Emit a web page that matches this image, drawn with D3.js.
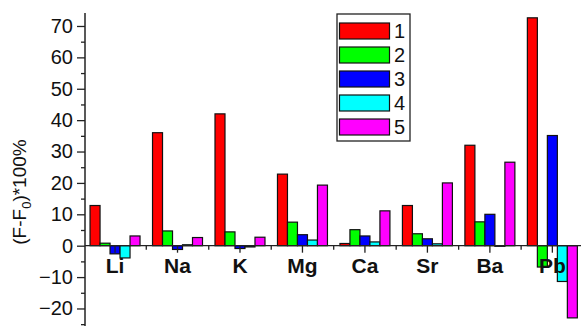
<!DOCTYPE html>
<html>
<head>
<meta charset="utf-8">
<script src="https://cdn.jsdelivr.net/npm/d3@7"></script>
<style>
  html, body { margin: 0; padding: 0; background: #fff; }
  svg { display: block; font-family: "Liberation Sans", Arial, sans-serif; }
</style>
</head>
<body>
<svg id="chart" width="581" height="326"></svg>
<script>
const categories = ["Li", "Na", "K", "Mg", "Ca", "Sr", "Ba", "Pb"];
const seriesNames = ["1", "2", "3", "4", "5"];
const s1 = [12.8, 36.0, 42.0, 22.8, 0.7, 12.8, 32.0, 72.6];
const s2 = [0.8, 4.7, 4.4, 7.5, 5.1, 3.8, 7.6, -6.8];
const s3 = [-2.6, -1.2, -0.9, 3.5, 3.1, 2.2, 10.0, 35.1];
const s4 = [-3.9, 0.3, -0.4, 1.8, 1.2, 0.6, 0.0, -11.4];
const s5 = [3.1, 2.6, 2.7, 19.3, 11.1, 20.0, 26.6, -23.0];
const colors = ["#ff0000", "#00ff00", "#0000ff", "#00ffff", "#ff00ff"];
const yMajorTicks = [-20, -10, 0, 10, 20, 30, 40, 50, 60, 70];
const yMinorTicks = [-25, -15, -5, 5, 15, 25, 35, 45, 55, 65];
const yLabel = "(F-F";
const yLabelSub = "0";
const yLabelEnd = ")*100%";

const series = [s1, s2, s3, s4, s5];
const svg = d3.select("#chart");

const axisX = 85;
const y = d3.scaleLinear().domain([-26, 74.2]).range([327.3, 12.8]);
const x0 = d3.scaleBand().domain(categories).range([83.8, 583.6])
  .paddingInner(0.2).paddingOuter(0.1);
const x1 = d3.scaleBand().domain(seriesNames).range([0, x0.bandwidth()]);

const rows = [];
categories.forEach((c, i) => {
  series.forEach((s, j) => rows.push({ c, k: seriesNames[j], v: s[i], color: colors[j] }));
});

// bars
svg.append("g").selectAll("rect").data(rows).join("rect")
  .attr("x", d => x0(d.c) + x1(d.k))
  .attr("width", x1.bandwidth())
  .attr("y", d => y(Math.max(0, d.v)))
  .attr("height", d => Math.max(0.6, Math.abs(y(d.v) - y(0))))
  .attr("fill", d => d.color)
  .attr("stroke", "#111")
  .attr("stroke-width", 1.2);

// x axis (zero line) with ticks
const xAxis = svg.append("g").attr("transform", `translate(0,${y(0)})`)
  .call(d3.axisBottom(x0).tickSize(7).tickFormat(""));
xAxis.select(".domain").remove();
xAxis.selectAll(".tick line").attr("stroke", "#222").attr("stroke-width", 1.3);
svg.append("line").attr("x1", axisX).attr("x2", 581)
  .attr("y1", y(0)).attr("y2", y(0)).attr("stroke", "#222").attr("stroke-width", 1.3);
const step = x0.step();
const bounds = categories.slice(0, -1).map(c => x0(c) + x0.bandwidth() + step * x0.paddingInner() / 2);
svg.append("g").selectAll("line").data(bounds).join("line")
  .attr("x1", d => d).attr("x2", d => d)
  .attr("y1", y(0)).attr("y2", y(0) + 4)
  .attr("stroke", "#222").attr("stroke-width", 1.3);

// category labels
svg.append("g").selectAll("text").data(categories).join("text")
  .attr("x", c => x0(c) + x0.bandwidth() / 2)
  .attr("y", 273)
  .attr("text-anchor", "middle")
  .attr("font-size", 21).attr("font-weight", "bold").attr("fill", "#111")
  .text(c => c);

// y axis
const yAxis = svg.append("g").attr("transform", `translate(${axisX},0)`)
  .call(d3.axisLeft(y).tickValues(yMajorTicks).tickSize(8).tickPadding(4));
yAxis.select(".domain").remove();
yAxis.selectAll(".tick line").attr("stroke", "#222").attr("stroke-width", 1.3);
yAxis.selectAll(".tick text").attr("font-size", 20).attr("fill", "#111")
  .attr("font-family", "Liberation Sans, Arial, sans-serif");
svg.append("g").attr("transform", `translate(${axisX},0)`)
  .call(d3.axisLeft(y).tickValues(yMinorTicks).tickSize(4).tickFormat(""))
  .call(g => g.select(".domain").remove())
  .selectAll(".tick line").attr("stroke", "#222").attr("stroke-width", 1.3);
svg.append("line").attr("x1", axisX).attr("x2", axisX)
  .attr("y1", 13).attr("y2", 326).attr("stroke", "#222").attr("stroke-width", 1.5);

// y label
const yl = svg.append("text")
  .attr("transform", "translate(26,192) rotate(-90)")
  .attr("text-anchor", "middle")
  .attr("font-size", 19).attr("fill", "#111");
yl.append("tspan").text(yLabel);
yl.append("tspan").attr("font-size", 13).attr("dy", 5).text(yLabelSub);
yl.append("tspan").attr("dy", -5).text(yLabelEnd);

// legend
const lg = svg.append("g");
lg.append("rect").attr("x", 337).attr("y", 14).attr("width", 73).attr("height", 127)
  .attr("fill", "#fff").attr("stroke", "#222").attr("stroke-width", 1.3);
seriesNames.forEach((n, i) => {
  lg.append("rect").attr("x", 339.5).attr("y", 23 + i * 24).attr("width", 50).attr("height", 16)
    .attr("fill", colors[i]).attr("stroke", "#111").attr("stroke-width", 1.2);
  lg.append("text").attr("x", 394).attr("y", 38 + i * 24)
    .attr("font-size", 20).attr("fill", "#111").text(n);
});
</script>
</body>
</html>
